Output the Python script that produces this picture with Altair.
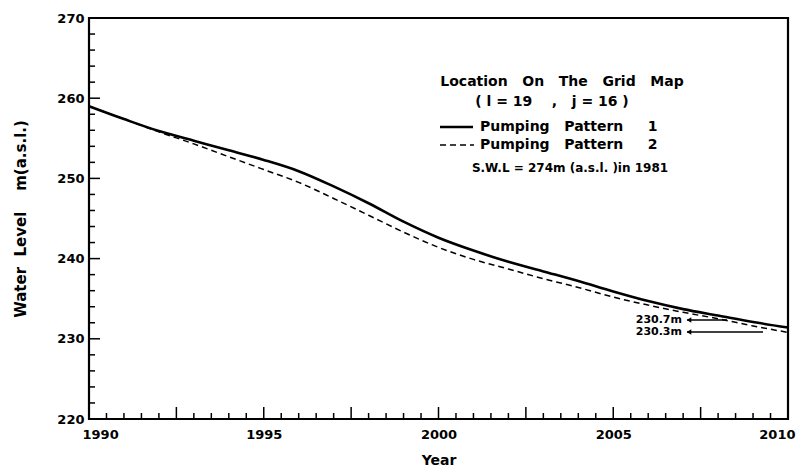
import altair as alt
import pandas as pd

# ---- data ----
years = [1990, 1991, 1992, 1993, 1994, 1995, 1996, 1997, 1998, 1999, 2000,
         2001, 2002, 2003, 2004, 2005, 2006, 2007, 2008, 2009, 2010]
pattern1 = [259.0, 257.4, 255.9, 254.7, 253.5, 252.3, 250.9, 249.0, 246.9, 244.6, 242.6,
            241.0, 239.6, 238.4, 237.2, 235.9, 234.7, 233.7, 232.9, 232.1, 231.4]
pattern2 = [259.0, 257.4, 255.8, 254.3, 252.7, 251.1, 249.5, 247.5, 245.4, 243.3, 241.4,
            239.9, 238.7, 237.5, 236.4, 235.2, 234.2, 233.3, 232.5, 231.6, 230.8]
series_names = ["Pumping Pattern 1", "Pumping Pattern 2"]

x_label_values = [1990, 1995, 2000, 2005, 2010]
y_label_values = [220, 230, 240, 250, 260, 270]
x_minor_ticks = [1990.5, 1991, 1991.5, 1992, 1993, 1993.5, 1994, 1994.5,
                 1995.5, 1996, 1996.5, 1997, 1998, 1998.5, 1999, 1999.5,
                 2000.5, 2001, 2001.5, 2002, 2003, 2003.5, 2004, 2004.5,
                 2005.5, 2006, 2006.5, 2007, 2008, 2008.5, 2009, 2009.5]
x_major_ticks = [1992.5, 1995, 1997.5, 2000, 2002.5, 2005, 2007.5]
y_minor_ticks = [222, 224, 226, 228, 232, 234, 236, 238, 242, 244, 246, 248,
                 252, 254, 256, 258, 262, 264, 266, 268]
y_major_ticks = [230, 240, 250, 260]

NB = "\u00a0"
FONT = "DejaVu Sans"
W, H = 699, 401

df = pd.DataFrame({
    "year": years * 2,
    "level": pattern1 + pattern2,
    "series": [series_names[0]] * len(years) + [series_names[1]] * len(years),
})

xs = alt.Scale(domain=[1990, 2010], nice=False, zero=False)
ys = alt.Scale(domain=[220, 270], nice=False, zero=False)

x_axis = alt.Axis(values=x_label_values, format="d", ticks=False, domain=False, grid=False,
                  labelFlush=True, labelFlushOffset=7,
                  labelFont=FONT, labelFontWeight="bold", labelFontSize=13, labelColor="black",
                  labelPadding=9, title="Year", titleFont=FONT, titleFontWeight="bold",
                  titleFontSize=14, titleColor="black", titlePadding=12)
y_axis = alt.Axis(values=y_label_values, ticks=False, domain=False, grid=False,
                  labelFlush=False,
                  labelFont=FONT, labelFontWeight="bold", labelFontSize=13, labelColor="black",
                  labelPadding=5,
                  title="Water" + NB * 2 + "Level" + NB * 4 + "m(a.s.l.)",
                  titleFont=FONT, titleFontWeight="bold", titleFontSize=15,
                  titleColor="black", titlePadding=28)

base = alt.Chart(df)

solid = base.transform_filter(alt.datum.series == series_names[0]).mark_line(
    color="black", strokeWidth=2.6, interpolate="monotone").encode(
    x=alt.X("year:Q", scale=xs, axis=x_axis),
    y=alt.Y("level:Q", scale=ys, axis=y_axis),
)
dashed = base.transform_filter(alt.datum.series == series_names[1]).mark_line(
    color="black", strokeWidth=1.5, strokeDash=[6, 4], interpolate="monotone").encode(
    x=alt.X("year:Q", scale=xs),
    y=alt.Y("level:Q", scale=ys),
)

def xticks(vals, length):
    return alt.Chart(pd.DataFrame({"t": vals})).mark_rule(color="black", strokeWidth=1.5).encode(
        x=alt.X("t:Q", scale=xs), y=alt.value(H), y2=alt.value(H - length))

def yticks(vals, length):
    return alt.Chart(pd.DataFrame({"t": vals})).mark_rule(color="black", strokeWidth=1.5).encode(
        y=alt.Y("t:Q", scale=ys), x=alt.value(0), x2=alt.value(length))

def txt(s, x, y, align="left", size=14):
    return alt.Chart(pd.DataFrame({"s": [s]})).mark_text(
        font=FONT, fontWeight="bold", fontSize=size, color="black", align=align,
        baseline="middle").encode(text="s:N", x=alt.value(x), y=alt.value(y))

legend_solid = alt.Chart(pd.DataFrame({"a": [0]})).mark_rule(color="black", strokeWidth=2.6).encode(
    x=alt.value(351), x2=alt.value(384), y=alt.value(109))
legend_dash = alt.Chart(pd.DataFrame({"a": [0]})).mark_rule(
    color="black", strokeWidth=1.5, strokeDash=[6, 4]).encode(
    x=alt.value(351), x2=alt.value(385), y=alt.value(127))

arrow1 = alt.Chart(pd.DataFrame({"a": [0]})).mark_rule(color="black", strokeWidth=1.3).encode(
    x=alt.value(598), x2=alt.value(638), y=alt.value(302))
arrow2 = alt.Chart(pd.DataFrame({"a": [0]})).mark_rule(color="black", strokeWidth=1.3).encode(
    x=alt.value(598), x2=alt.value(674), y=alt.value(314))
head1 = alt.Chart(pd.DataFrame({"a": [0]})).mark_point(
    shape="triangle-left", filled=True, color="black", size=28, opacity=1).encode(
    x=alt.value(600), y=alt.value(302))
head2 = alt.Chart(pd.DataFrame({"a": [0]})).mark_point(
    shape="triangle-left", filled=True, color="black", size=28, opacity=1).encode(
    x=alt.value(600), y=alt.value(314))

chart = alt.layer(
    solid, dashed,
    xticks(x_minor_ticks, 6), xticks(x_major_ticks, 12),
    yticks(y_minor_ticks, 6), yticks(y_major_ticks, 11),
    legend_solid, legend_dash,
    txt("Location" + NB * 3 + "On" + NB * 3 + "The" + NB * 3 + "Grid" + NB * 3 + "Map", 473, 64,
        align="center"),
    txt("(" + NB + "l" + NB + "=" + NB + "19" + NB * 4 + "," + NB * 3 + "j" + NB + "=" + NB
        + "16" + NB + ")", 463, 84, align="center"),
    txt("Pumping" + NB * 3 + "Pattern" + NB * 5 + "1", 391, 109),
    txt("Pumping" + NB * 3 + "Pattern" + NB * 5 + "2", 391, 127),
    txt("S.W.L" + NB + "=" + NB + "274m" + NB + "(a.s.l." + NB + ")in" + NB + "1981", 481, 150,
        align="center", size=12),
    txt("230.7m", 593, 302, align="right", size=11),
    txt("230.3m", 593, 314, align="right", size=11),
    arrow1, arrow2, head1, head2,
).properties(
    width=W, height=H,
    autosize=alt.AutoSizeParams(type="none"),
    padding={"left": 81, "top": 10, "right": 9, "bottom": 50},
).configure(background="white"
).configure_view(stroke="black", strokeWidth=2.2)

chart.save("out.html", embed_options={"renderer": "svg", "actions": False})
